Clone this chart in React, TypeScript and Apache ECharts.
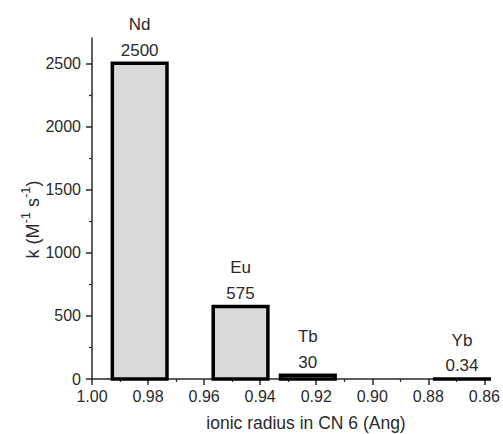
import React, { useEffect, useRef } from "react";
import * as echarts from "echarts";

// ---- data ----
const elements = ["Nd", "Eu", "Tb", "Yb"];
const ionicRadii = [0.983, 0.947, 0.923, 0.868];
const rateConstants = [2500, 575, 30, 0.34];
const rateLabels = ["2500", "575", "30", "0.34"];
const barWidthAng = 0.0195;

const xMajorTicks = [0.86, 0.88, 0.9, 0.92, 0.94, 0.96, 0.98, 1.0];
const xMinorTicks = [0.87, 0.89, 0.91, 0.93, 0.95, 0.97, 0.99];
const yMajorTicks = [0, 500, 1000, 1500, 2000, 2500];
const yMinorTicks = [250, 750, 1250, 1750, 2250];

const xMin = 0.858;
const xMax = 1.0;
const yMin = 0;
const yMax = 2700;

const FONT = '"Liberation Sans", Arial, sans-serif';
const AXIS_COLOR = "#2a2a2a";
const TEXT_COLOR = "#2a2a2a";

export default function App() {
  const ref = useRef<HTMLDivElement>(null);

  useEffect(() => {
    if (!ref.current) return;
    const chart = echarts.init(ref.current, null, { renderer: "svg" });

    const data = elements.map((el, i) => [ionicRadii[i], rateConstants[i], i]);

    const baseX = {
      type: "value",
      min: xMin,
      max: xMax,
      inverse: true,
      position: "bottom",
      offset: 0,
      splitLine: { show: false },
    };
    const baseY = {
      type: "value",
      min: yMin,
      max: yMax,
      position: "left",
      offset: 0,
      splitLine: { show: false },
    };

    chart.setOption({
      animation: false,
      grid: {
        left: 92,
        right: 13,
        top: 38,
        bottom: 55,
        containLabel: false,
        outerBoundsMode: "none",
      },
      xAxis: [
        {
          ...baseX,
          name: "ionic radius in CN 6 (Ang)",
          nameLocation: "middle",
          nameGap: 35,
          nameMoveOverlap: false,
          nameTextStyle: {
            fontSize: 17.5,
            fontFamily: FONT,
            color: TEXT_COLOR,
            padding: [0, 0, 0, 30],
          },
          axisLine: { show: true, lineStyle: { color: AXIS_COLOR, width: 1.5 } },
          axisTick: {
            show: true,
            length: 6,
            lineStyle: { color: AXIS_COLOR, width: 1.5 },
            customValues: xMajorTicks,
          },
          axisLabel: {
            show: true,
            margin: 9,
            fontSize: 16,
            fontFamily: FONT,
            color: TEXT_COLOR,
            customValues: xMajorTicks,
            formatter: (v: number) => v.toFixed(2),
          },
        },
        {
          ...baseX,
          axisLine: { show: false },
          axisLabel: { show: false },
          axisTick: {
            show: true,
            length: 3,
            lineStyle: { color: AXIS_COLOR, width: 1.2 },
            customValues: xMinorTicks,
          },
        },
      ],
      yAxis: [
        {
          ...baseY,
          name: "{b|k (M}{sup|-1}{b| s}{sup|-1}{b|)}",
          nameLocation: "middle",
          nameGap: 50,
          nameRotate: 90,
          nameMoveOverlap: false,
          nameTextStyle: {
            fontSize: 18,
            fontFamily: FONT,
            color: TEXT_COLOR,
            padding: [0, 22, 0, 0],
            rich: {
              b: {
                fontSize: 18,
                fontFamily: FONT,
                color: TEXT_COLOR,
                verticalAlign: "bottom",
              },
              sup: {
                fontSize: 13,
                fontFamily: FONT,
                color: TEXT_COLOR,
                verticalAlign: "top",
                padding: [0, 0, 10, 0],
              },
            },
          },
          axisLine: { show: true, lineStyle: { color: AXIS_COLOR, width: 1.5 } },
          axisTick: {
            show: true,
            length: 6,
            lineStyle: { color: AXIS_COLOR, width: 1.5 },
            customValues: yMajorTicks,
          },
          axisLabel: {
            show: true,
            margin: 11,
            fontSize: 16,
            fontFamily: FONT,
            color: TEXT_COLOR,
            customValues: yMajorTicks,
            formatter: (v: number) => String(v),
          },
        },
        {
          ...baseY,
          axisLine: { show: false },
          axisLabel: { show: false },
          axisTick: {
            show: true,
            length: 3,
            lineStyle: { color: AXIS_COLOR, width: 1.2 },
            customValues: yMinorTicks,
          },
        },
      ],
      series: [
        {
          type: "custom",
          xAxisIndex: 0,
          yAxisIndex: 0,
          data,
          renderItem: (params: any, api: any) => {
            const x = api.value(0);
            const y = api.value(1);
            const idx = api.value(2);
            const pA = api.coord([x + barWidthAng / 2, y]);
            const pB = api.coord([x - barWidthAng / 2, yMin]);
            const left = Math.min(pA[0], pB[0]);
            const right = Math.max(pA[0], pB[0]);
            const top = Math.min(pA[1], pB[1]);
            const bottom = Math.max(pA[1], pB[1]);
            const cx = (left + right) / 2;
            return {
              type: "group",
              children: [
                {
                  type: "rect",
                  shape: { x: left, y: top, width: right - left, height: Math.max(bottom - top, 0.01) },
                  style: { fill: "#d9d9d9", stroke: "#000", lineWidth: 3.5 },
                },
                {
                  type: "text",
                  style: {
                    text: rateLabels[idx],
                    x: cx,
                    y: top - 13,
                    align: "center",
                    verticalAlign: "middle",
                    fontSize: 17,
                    fontFamily: FONT,
                    fill: TEXT_COLOR,
                  },
                },
                {
                  type: "text",
                  style: {
                    text: elements[idx],
                    x: cx,
                    y: top - 38.5,
                    align: "center",
                    verticalAlign: "middle",
                    fontSize: 17,
                    fontFamily: FONT,
                    fill: TEXT_COLOR,
                  },
                },
              ],
            };
          },
        },
      ],
    });

    return () => chart.dispose();
  }, []);

  return (
    <div
      ref={ref}
      style={{ position: "fixed", left: 0, top: 0, width: 503, height: 434, background: "#fff" }}
    />
  );
}
